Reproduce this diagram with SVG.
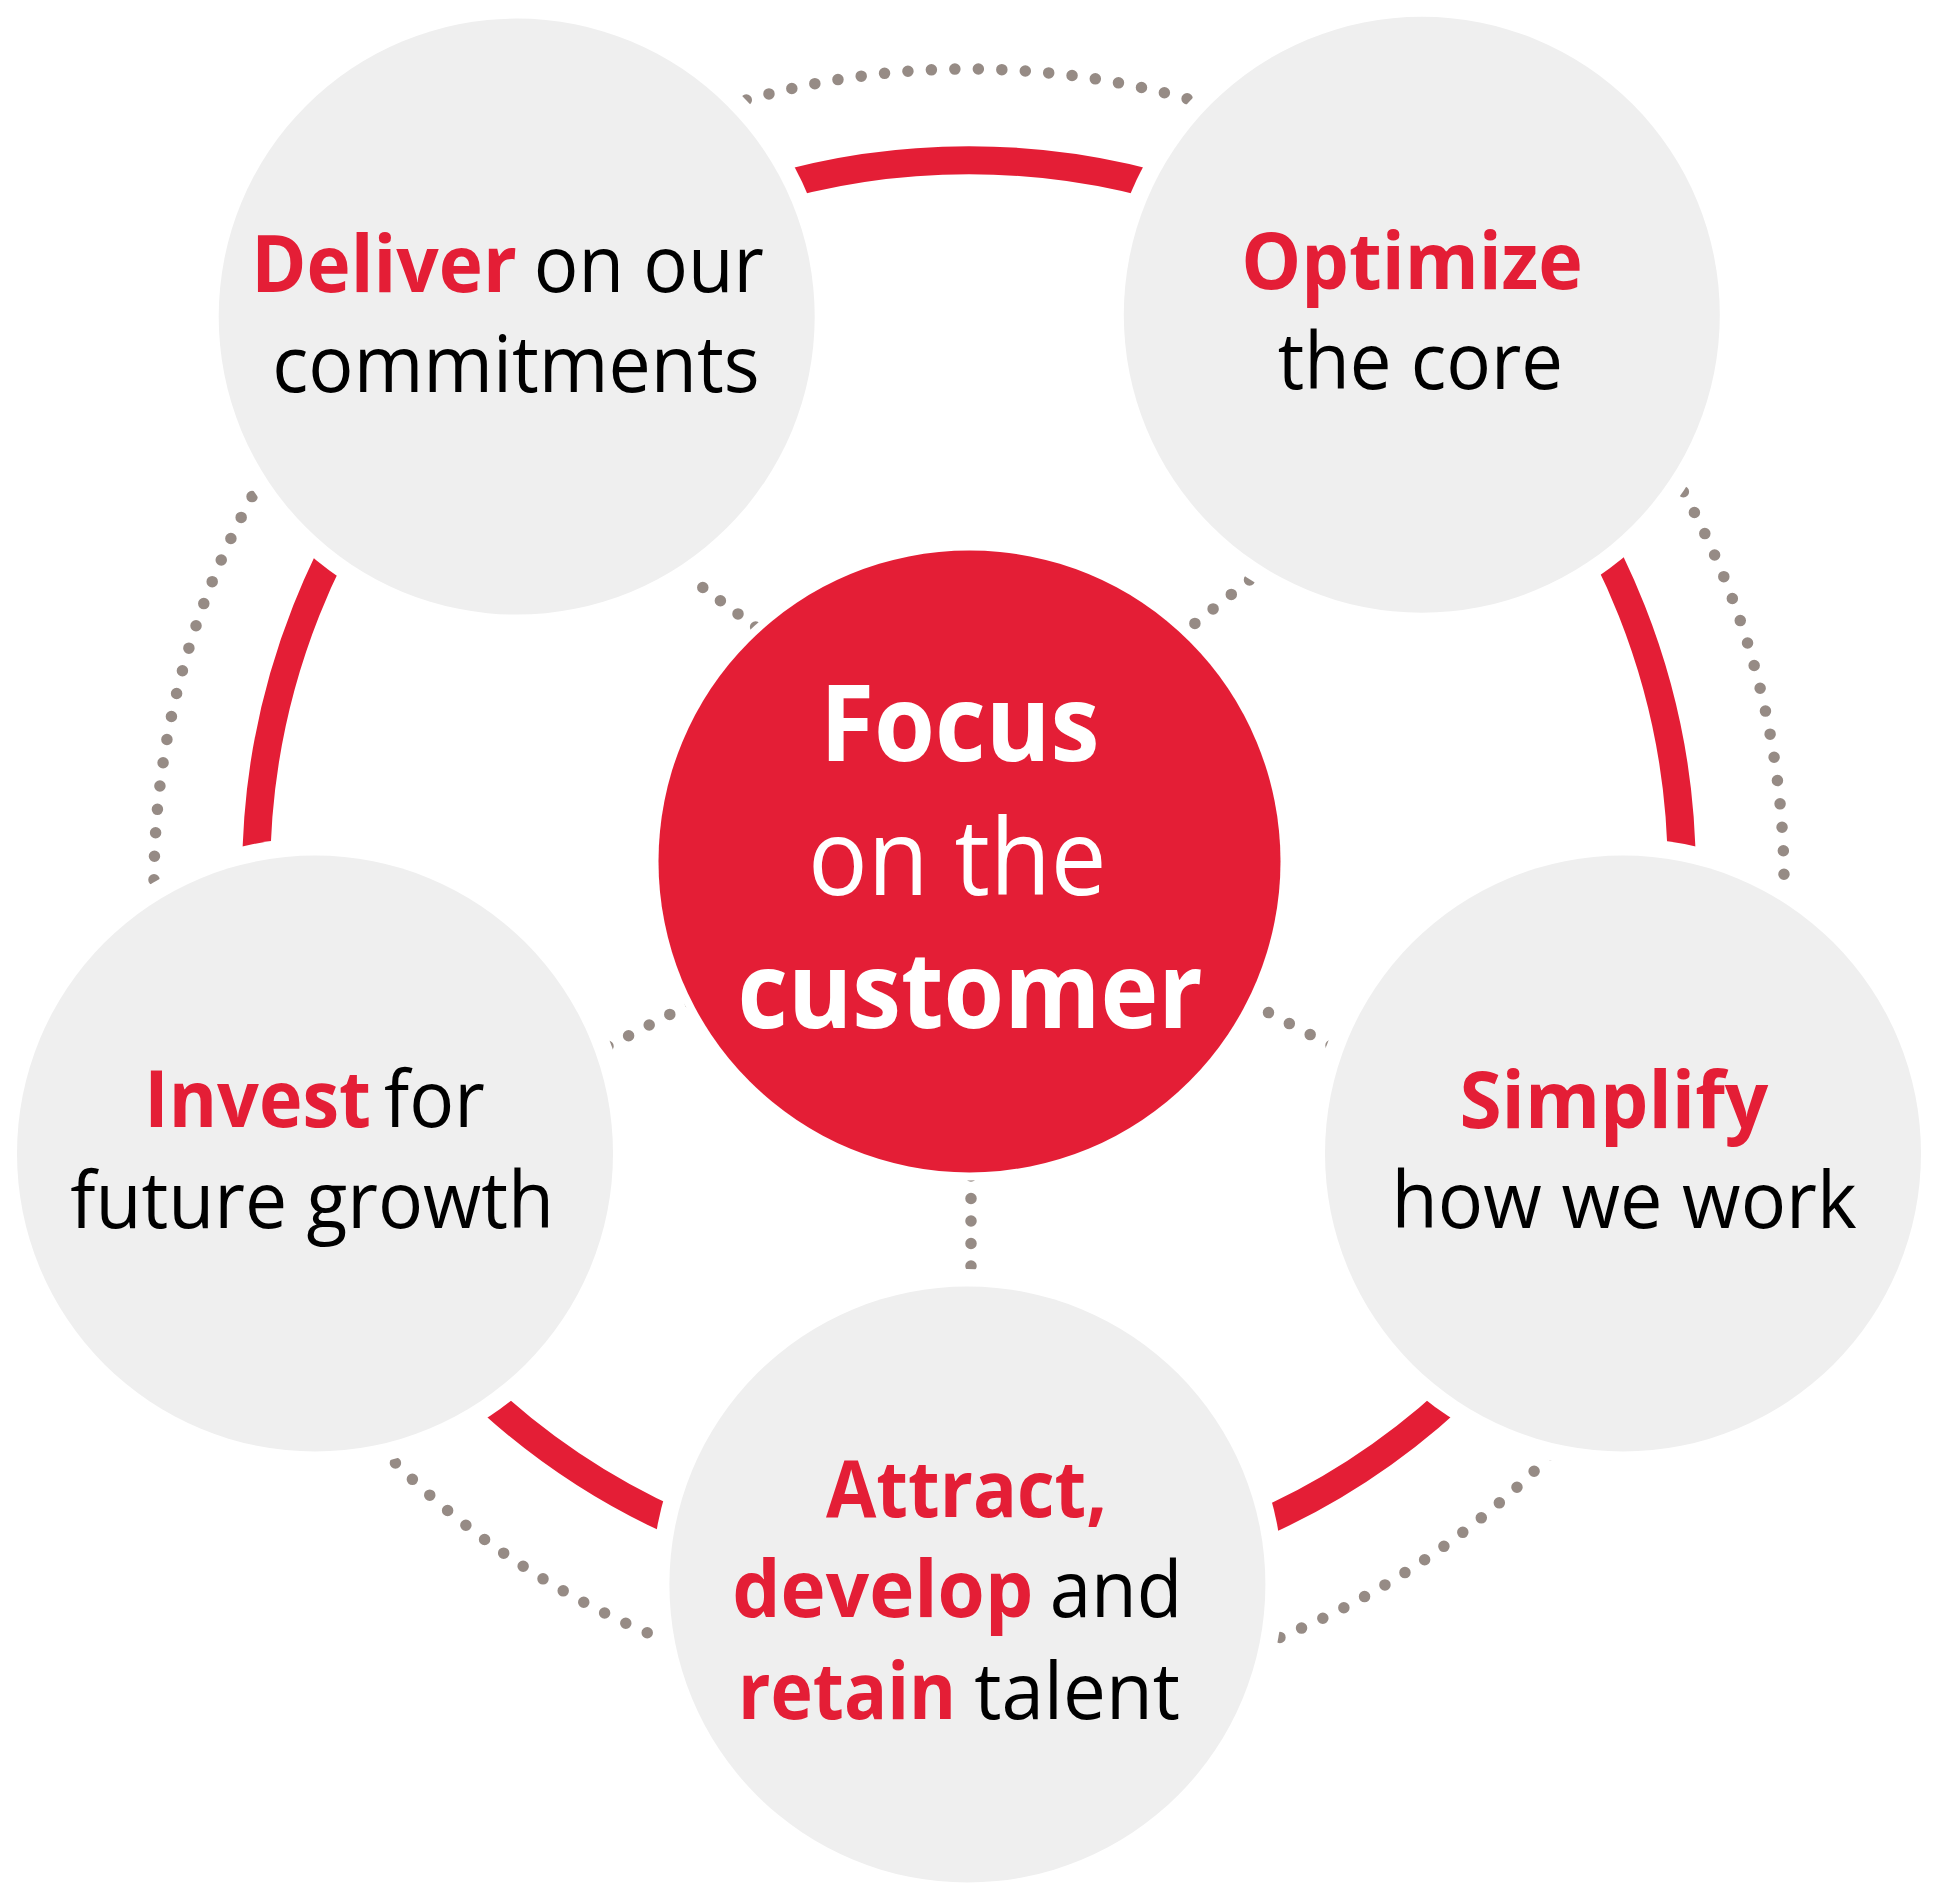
<svg xmlns="http://www.w3.org/2000/svg" width="1938" height="1900" viewBox="0 0 1938 1900">
<style>
.dot{fill:none;stroke:#968b85;stroke-width:11.5;stroke-linecap:round}
.ring{fill:none;stroke:#e41e36;stroke-width:28}
.halo{fill:#fff}
.node{fill:#efefef}
.t{font-family:"Open Sans","Noto Sans","Liberation Sans",sans-serif;font-size:79px}
.c{font-family:"Open Sans","Noto Sans","Liberation Sans",sans-serif;font-size:106px;fill:#fff}
.b{font-weight:700}
.red{fill:#e41e36}
.blk{fill:#000}
</style>
<rect width="1938" height="1900" fill="#fff"/>
<g id="connectors">
<path class="dot" style="stroke-dasharray:0 22" d="M597.2,508.3 L808.4,666.7"/>
<path class="dot" style="stroke-dasharray:0 23.27" d="M1322.3,521.9 L1122.1,681.4"/>
<path class="dot" style="stroke-dasharray:0 23.19" d="M505,1099.6 L793.4,950.5"/>
<path class="dot" style="stroke-dasharray:0 23.57" d="M1143.4,946.6 L1435.3,1100.6"/>
<path class="dot" style="stroke-dasharray:0 22.5" d="M971,1108.5 L971,1378.5"/>
<path class="dot" style="stroke-dasharray:0 23.49" d="M723.8,106.7 A815,815 0 0 1 1231.9,112.6"/>
<path class="dot" style="stroke-dasharray:0 23.49" d="M1671.8,471.4 A815,815 0 0 1 1783.2,921"/>
<path class="dot" style="stroke-dasharray:0 23.49" d="M1567,1437.7 A815,815 0 0 1 1258.2,1646"/>
<path class="dot" style="stroke-dasharray:0 23.49" d="M690.9,1650.1 A815,815 0 0 1 378.9,1446.2"/>
<path class="dot" style="stroke-dasharray:0 23.49" d="M154.2,903.2 A815,815 0 0 1 263.4,476.3"/>
<circle class="ring" cx="969" cy="873" r="712.8"/>
</g>
<g id="halos">
<circle class="halo" cx="969.5" cy="861.4" r="319"/>
<circle class="halo" cx="516.7" cy="316.6" r="315.5"/>
<circle class="halo" cx="1421.8" cy="314.8" r="315.5"/>
<circle class="halo" cx="315" cy="1153.5" r="315.5"/>
<circle class="halo" cx="1623" cy="1153.5" r="315.5"/>
<circle class="halo" cx="967.4" cy="1584.5" r="315.5"/>
</g>
<g id="center">
<circle cx="969.5" cy="861.4" r="311" fill="#e41e36"/>
<text class="c b" x="819.9" y="761.2" textLength="279.6" lengthAdjust="spacingAndGlyphs">Focus</text>
<text class="c" x="808" y="895.2" textLength="298.6" lengthAdjust="spacingAndGlyphs">on the</text>
<text class="c b" x="737.6" y="1028.2" textLength="465.2" lengthAdjust="spacingAndGlyphs">customer</text>
</g>
<g id="deliver">
<circle class="node" cx="516.7" cy="316.6" r="298"/>
<text class="t b red" x="251.3" y="292.4" textLength="265.5" lengthAdjust="spacingAndGlyphs">Deliver</text>
<text class="t blk" x="533.7" y="292.4" textLength="230.3" lengthAdjust="spacingAndGlyphs">on our</text>
<text class="t blk" x="272.3" y="391.6" textLength="487.4" lengthAdjust="spacingAndGlyphs">commitments</text>
</g>
<g id="optimize">
<circle class="node" cx="1421.8" cy="314.8" r="298"/>
<text class="t b red" x="1241.3" y="289.3" textLength="341.6" lengthAdjust="spacingAndGlyphs">Optimize</text>
<text class="t blk" x="1277.7" y="389.2" textLength="285.3" lengthAdjust="spacingAndGlyphs">the core</text>
</g>
<g id="invest">
<circle class="node" cx="315" cy="1153.5" r="298"/>
<text class="t b red" x="144.3" y="1126.6" textLength="226.7" lengthAdjust="spacingAndGlyphs">Invest</text>
<text class="t blk" x="384" y="1126.6" textLength="100.7" lengthAdjust="spacingAndGlyphs">for</text>
<text class="t blk" x="70.2" y="1228.4" textLength="483.8" lengthAdjust="spacingAndGlyphs">future growth</text>
</g>
<g id="simplify">
<circle class="node" cx="1623" cy="1153.5" r="298"/>
<text class="t b red" x="1459.4" y="1128" textLength="308.9" lengthAdjust="spacingAndGlyphs">Simplify</text>
<text class="t blk" x="1391.5" y="1228.4" textLength="465.2" lengthAdjust="spacingAndGlyphs">how we work</text>
</g>
<g id="attract">
<circle class="node" cx="967.4" cy="1584.5" r="298"/>
<text class="t b red" x="826" y="1517" textLength="281" lengthAdjust="spacingAndGlyphs">Attract,</text>
<text class="t b red" x="732.2" y="1617" textLength="301.1" lengthAdjust="spacingAndGlyphs">develop</text>
<text class="t blk" x="1049.7" y="1617" textLength="132.7" lengthAdjust="spacingAndGlyphs">and</text>
<text class="t b red" x="738" y="1719" textLength="218.1" lengthAdjust="spacingAndGlyphs">retain</text>
<text class="t blk" x="974.2" y="1719" textLength="205.8" lengthAdjust="spacingAndGlyphs">talent</text>
</g>
</svg>
